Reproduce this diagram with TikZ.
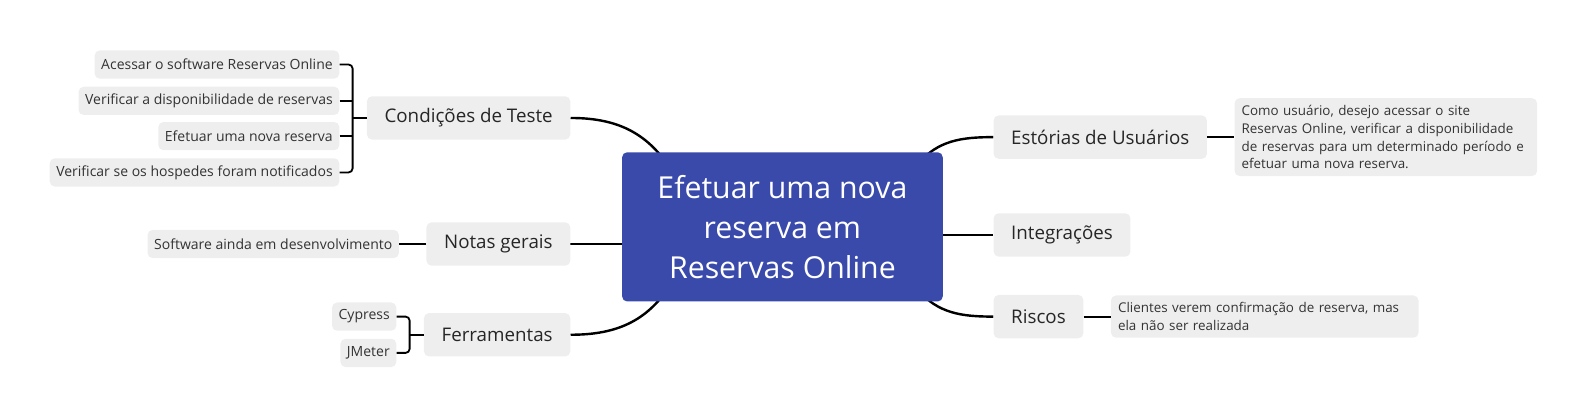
\documentclass[tikz,border=0pt]{standalone}
\usepackage{fontspec}
\setmainfont{Open Sans}
\usepackage{tikz}
\usetikzlibrary{positioning,backgrounds,calc}
\definecolor{hubblue}{HTML}{3A4AAB}
\definecolor{boxgrey}{HTML}{EEEEEE}
\definecolor{inkk}{HTML}{333333}

\begin{document}
\begin{tikzpicture}[x=1pt, y=1pt,
node distance=27pt and 27pt, % y and x
hubb/.style={rectangle, rounded corners=5pt, fill=hubblue, text=white, minimum width=318pt, minimum height=148pt, align=center, font=\fontsize{30}{39.5}\selectfont},
branchh/.style={rectangle, rounded corners=5pt, fill=boxgrey, text=black!85, minimum height=43pt, inner xsep=17.5pt, font=\fontsize{18.6}{20}\selectfont},
leaff/.style={rectangle, rounded corners=5pt, fill=boxgrey, text=inkk, minimum height=28pt, inner xsep=6.5pt, font=\fontsize{13.9}{17.6}\selectfont},
notee/.style={leaff, align=left, inner sep=7pt, font=\fontsize{13.3}{17.6}\selectfont},
linkk/.style={line width=2.4pt},
twigg/.style={line width=1.8pt, rounded corners=4pt},
]
  \useasboundingbox (0,0) rectangle (1568,-415);

  \node (hub) [hubb] at (776,-225) {Efetuar uma nova\\reserva em\\Reservas Online};

  % left branches
  \node (cond) [branchh, left=51pt of hub, yshift=108pt] {Condições de Teste};
  \node (notas) [branchh, left=51pt of hub, yshift=-17pt] {Notas gerais};
  \node (ferr) [branchh, left=51pt of hub, yshift=-107pt] {Ferramentas};

  % right branches
  \node (story) [branchh, right=50pt of hub, yshift=89pt] {Estórias de Usuários};
  \node (integ) [branchh, right=50pt of hub, yshift=-8pt] {Integrações};
  \node (risk) [branchh, right=50pt of hub, yshift=-89pt] {Riscos};

  % leaves
  \node (c1) [leaff, left=of cond, yshift=53pt] {Acessar o software Reservas Online};
  \node (c2) [leaff, left=of cond, yshift=17pt] {Verificar a disponibilidade de reservas};
  \node (c3) [leaff, left=of cond, yshift=-18pt] {Efetuar uma nova reserva};
  \node (c4) [leaff, left=of cond, yshift=-54pt] {Verificar se os hospedes foram notificados};
  \node (n1) [leaff, left=of notas] {Software ainda em desenvolvimento};
  \node (f1) [leaff, left=of ferr, yshift=18pt] {Cypress};
  \node (f2) [leaff, left=of ferr, yshift=-18pt] {JMeter};
  \node (s1) [notee, right=of story, text width=286pt] {Como usuário, desejo acessar o site\\Reservas Online, verificar a disponibilidade\\de reservas para um determinado período e\\efetuar uma nova reserva.};
  \node (r1) [notee, right=of risk, text width=291pt] {Clientes verem confirmação de reserva, mas\\ela não ser realizada};

  \coordinate (cbar) at ($(cond.west)+(-14,0)$);
  \coordinate (fbar) at ($(ferr.west)+(-14,0)$);

  \begin{scope}[on background layer]
    \draw[linkk] ($(hub.north west)+(45,-12)$) to[out=125,in=0] (cond.east);
    \draw[linkk] (hub.west |- notas.east) -- (notas.east);
    \draw[linkk] ($(hub.south west)+(45,12)$) to[out=-125,in=0] (ferr.east);
    \draw[linkk] ($(hub.north east)+(-25,-12)$) to[out=50,in=180] (story.west);
    \draw[linkk] (hub.east |- integ.west) -- (integ.west);
    \draw[linkk] ($(hub.south east)+(-25,12)$) to[out=-50,in=180] (risk.west);
  \end{scope}

  \draw[twigg] (c1.east) -| (cbar) |- (c4.east);
  \draw[twigg] (cond.west) -- (cbar);
  \draw[twigg] (c2.east) -- (c2.east -| cbar);
  \draw[twigg] (c3.east) -- (c3.east -| cbar);
  \draw[twigg] (notas.west) -- (n1.east);
  \draw[twigg] (f1.east) -| (fbar) |- (f2.east);
  \draw[twigg] (ferr.west) -- (fbar);
  \draw[twigg] (story.east) -- (s1.west);
  \draw[twigg] (risk.east) -- (r1.west);
\end{tikzpicture}
\end{document}
